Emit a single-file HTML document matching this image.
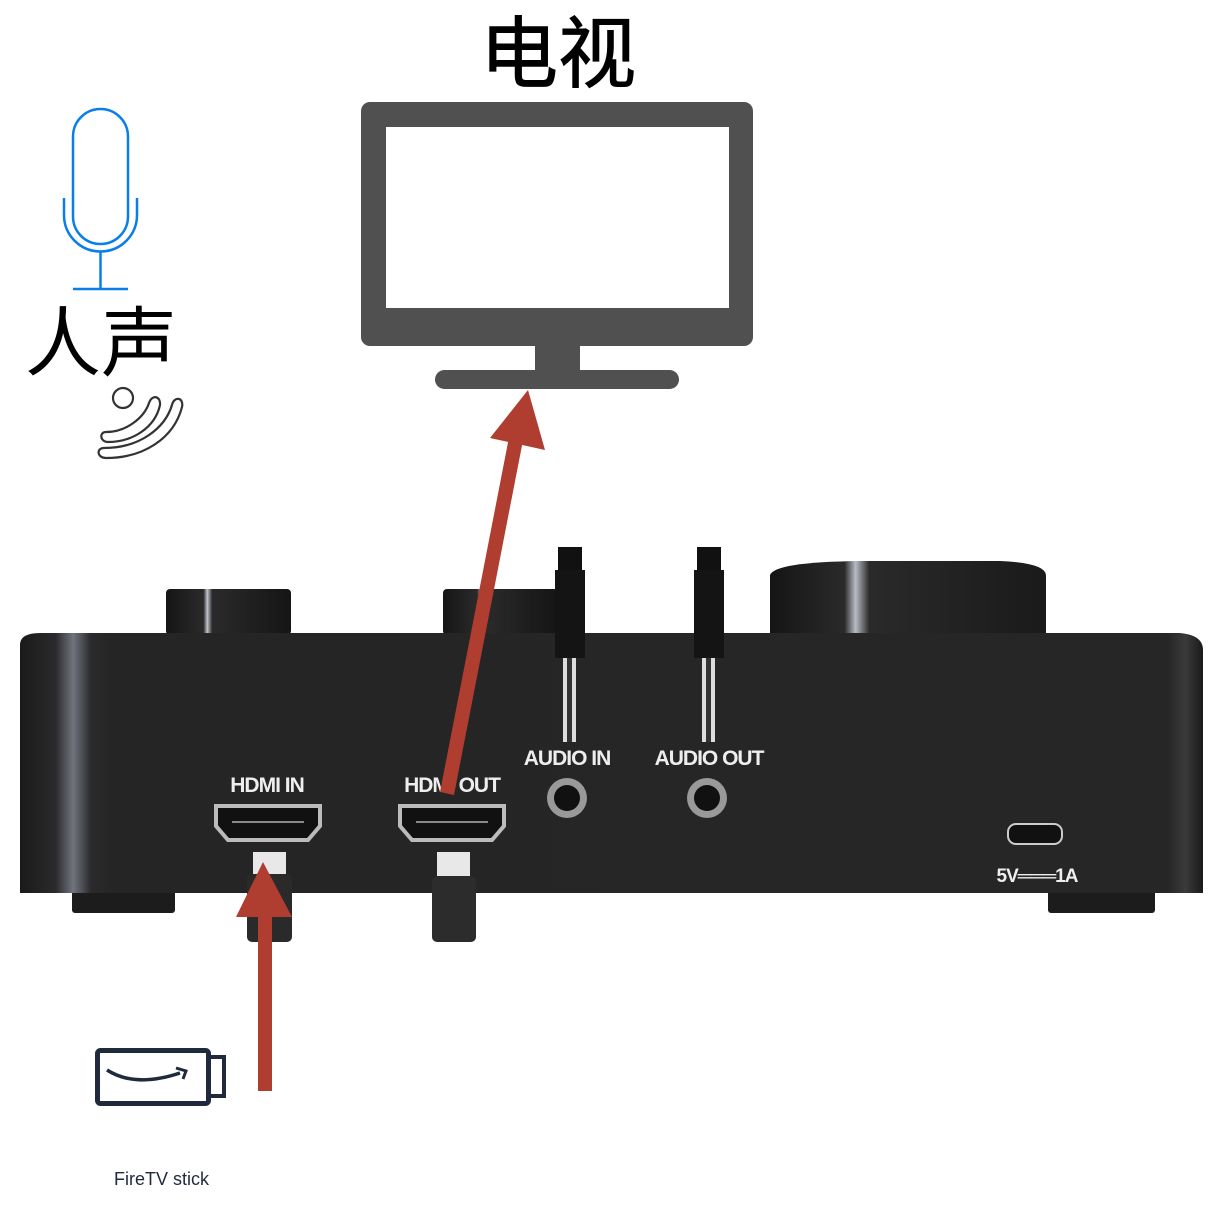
<!DOCTYPE html>
<html><head><meta charset="utf-8"><style>
html,body{margin:0;padding:0;background:#fff;}
svg{display:block}
</style></head><body>
<svg width="1215" height="1212" viewBox="0 0 1215 1212" xmlns="http://www.w3.org/2000/svg">
<defs>
<linearGradient id="body" x1="0" x2="1" y1="0" y2="0">
<stop offset="0" stop-color="#1a1a1a"/><stop offset="0.03" stop-color="#2a2a2c"/><stop offset="0.045" stop-color="#70747c"/><stop offset="0.06" stop-color="#2a2a2c"/><stop offset="0.08" stop-color="#252525"/><stop offset="0.97" stop-color="#262626"/><stop offset="0.985" stop-color="#3a3a3a"/><stop offset="1" stop-color="#1a1a1a"/>
</linearGradient>
<linearGradient id="k1" x1="0" x2="1"><stop offset="0" stop-color="#151515"/><stop offset="0.3" stop-color="#2a2a2a"/><stop offset="0.33" stop-color="#c0c4cc"/><stop offset="0.37" stop-color="#2a2a2a"/><stop offset="1" stop-color="#151515"/></linearGradient>
<linearGradient id="k3" x1="0" x2="1"><stop offset="0" stop-color="#151515"/><stop offset="0.27" stop-color="#2a2a2a"/><stop offset="0.31" stop-color="#b8bcc4"/><stop offset="0.36" stop-color="#2a2a2a"/><stop offset="1" stop-color="#1a1a1a"/></linearGradient>
</defs>
<text x="558" y="81" font-family="'Liberation Sans','Noto Sans CJK SC',sans-serif" font-size="78" text-anchor="middle" fill="#000" stroke="#000" stroke-width="1">电视</text>
<rect x="361" y="102" width="392" height="244" rx="9" fill="#505050"/>
<rect x="386" y="127" width="343" height="181" fill="#fff"/>
<rect x="535" y="340" width="45" height="34" fill="#505050"/>
<rect x="435" y="370" width="244" height="19" rx="9.5" fill="#505050"/>
<g fill="none" stroke="#0a7ee8" stroke-width="2.5">
<rect x="73" y="109" width="55" height="135" rx="27.5"/>
<path d="M64 198 V215 A36.5 36.5 0 0 0 137 215 V198"/>
<line x1="100.5" y1="252" x2="100.5" y2="289"/>
<line x1="73" y1="289" x2="128" y2="289"/>
</g>
<text x="25" y="370" font-family="'Liberation Sans','Noto Sans CJK SC',sans-serif" font-size="76" fill="#000">人声</text>
<g fill="none" stroke="#333" stroke-width="2.2">
<circle cx="123" cy="398" r="10"/>
<path d="M106 432 C126 432 144 418 149 403 C152 394 161 396 160 405 C155 428 132 442 108 442 C100 442 99 432 106 432 Z"/>
<path d="M104 448 C140 448 165 428 172 405 C174 396 184 397 182 407 C174 438 144 458 106 458 C97 458 96 448 104 448 Z"/>
</g>
<rect x="166" y="589" width="125" height="46" rx="4" fill="url(#k1)"/>
<rect x="443" y="589" width="115" height="46" rx="4" fill="url(#k1)"/>
<path d="M770 575 Q775 562 860 561 L1000 561 Q1045 563 1046 575 V635 H770 Z" fill="url(#k3)"/>
<rect x="72" y="888" width="103" height="25" rx="3" fill="#1c1c1c"/>
<rect x="1048" y="888" width="107" height="25" rx="3" fill="#1c1c1c"/>
<path d="M20 645 Q20 633 40 633 L1180 633 Q1203 635 1203 650 V893 H20 Z" fill="url(#body)"/>
<g>
<rect x="558" y="547" width="24" height="25" fill="#111"/>
<rect x="555" y="570" width="30" height="88" fill="#141414"/>
<rect x="563" y="658" width="13" height="84" fill="#ddd"/>
<rect x="567" y="658" width="5" height="84" fill="#333"/>
<rect x="697" y="547" width="24" height="25" fill="#111"/>
<rect x="694" y="570" width="30" height="88" fill="#141414"/>
<rect x="702" y="658" width="13" height="84" fill="#ddd"/>
<rect x="706" y="658" width="5" height="84" fill="#333"/>
</g>
<g font-family="'Liberation Sans',sans-serif" font-weight="bold" fill="#eee" font-size="21" letter-spacing="-1">
<text x="567" y="765" text-anchor="middle">AUDIO IN</text>
<text x="709" y="765" text-anchor="middle">AUDIO OUT</text>
<text x="267" y="792" text-anchor="middle">HDMI IN</text>
<text x="452" y="792" text-anchor="middle">HDMI OUT</text>
<text x="1037" y="882" text-anchor="middle" font-size="19">5V═══1A</text>
</g>
<circle cx="567" cy="798" r="20" fill="#999"/><circle cx="567" cy="798" r="13" fill="#111"/>
<circle cx="707" cy="798" r="20" fill="#999"/><circle cx="707" cy="798" r="13" fill="#111"/>
<g fill="#111" stroke="#bbb" stroke-width="4">
<path d="M216 806 H320 V826 L308 840 H228 L216 826 Z"/>
<path d="M400 806 H504 V826 L492 840 H412 L400 826 Z"/>
</g>
<line x1="232" y1="822" x2="304" y2="822" stroke="#888" stroke-width="2"/>
<line x1="416" y1="822" x2="488" y2="822" stroke="#888" stroke-width="2"/>
<rect x="253" y="852" width="33" height="24" fill="#e8e8e8"/>
<rect x="247" y="874" width="45" height="68" rx="5" fill="#2a2a2a"/>
<rect x="437" y="852" width="33" height="24" fill="#e8e8e8"/>
<rect x="432" y="876" width="44" height="66" rx="5" fill="#2c2c2c"/>
<rect x="1008" y="824" width="54" height="20" rx="8" fill="#111" stroke="#ccc" stroke-width="2"/>
<g fill="#b03e30">
<rect x="258" y="905" width="14" height="186"/>
<polygon points="263,862 236,917 292,917"/>
<polygon points="440,792 454,795 525,430 511,427"/>
<polygon points="528,390 490,438 545,450"/>
</g>
<rect x="97.5" y="1050.5" width="111" height="53" rx="3" fill="none" stroke="#1f2b3c" stroke-width="5"/>
<rect x="209" y="1057" width="15" height="39" fill="none" stroke="#1f2b3c" stroke-width="4"/>
<path d="M107 1070 Q135 1088 180 1073" fill="none" stroke="#1f2b3c" stroke-width="3.5"/>
<path d="M176 1068 L186 1071 L183 1079" fill="none" stroke="#1f2b3c" stroke-width="3"/>
<text x="114" y="1185" font-family="'Liberation Sans',sans-serif" font-size="18" fill="#1f2b3c">FireTV stick</text>
</svg>
</body></html>
